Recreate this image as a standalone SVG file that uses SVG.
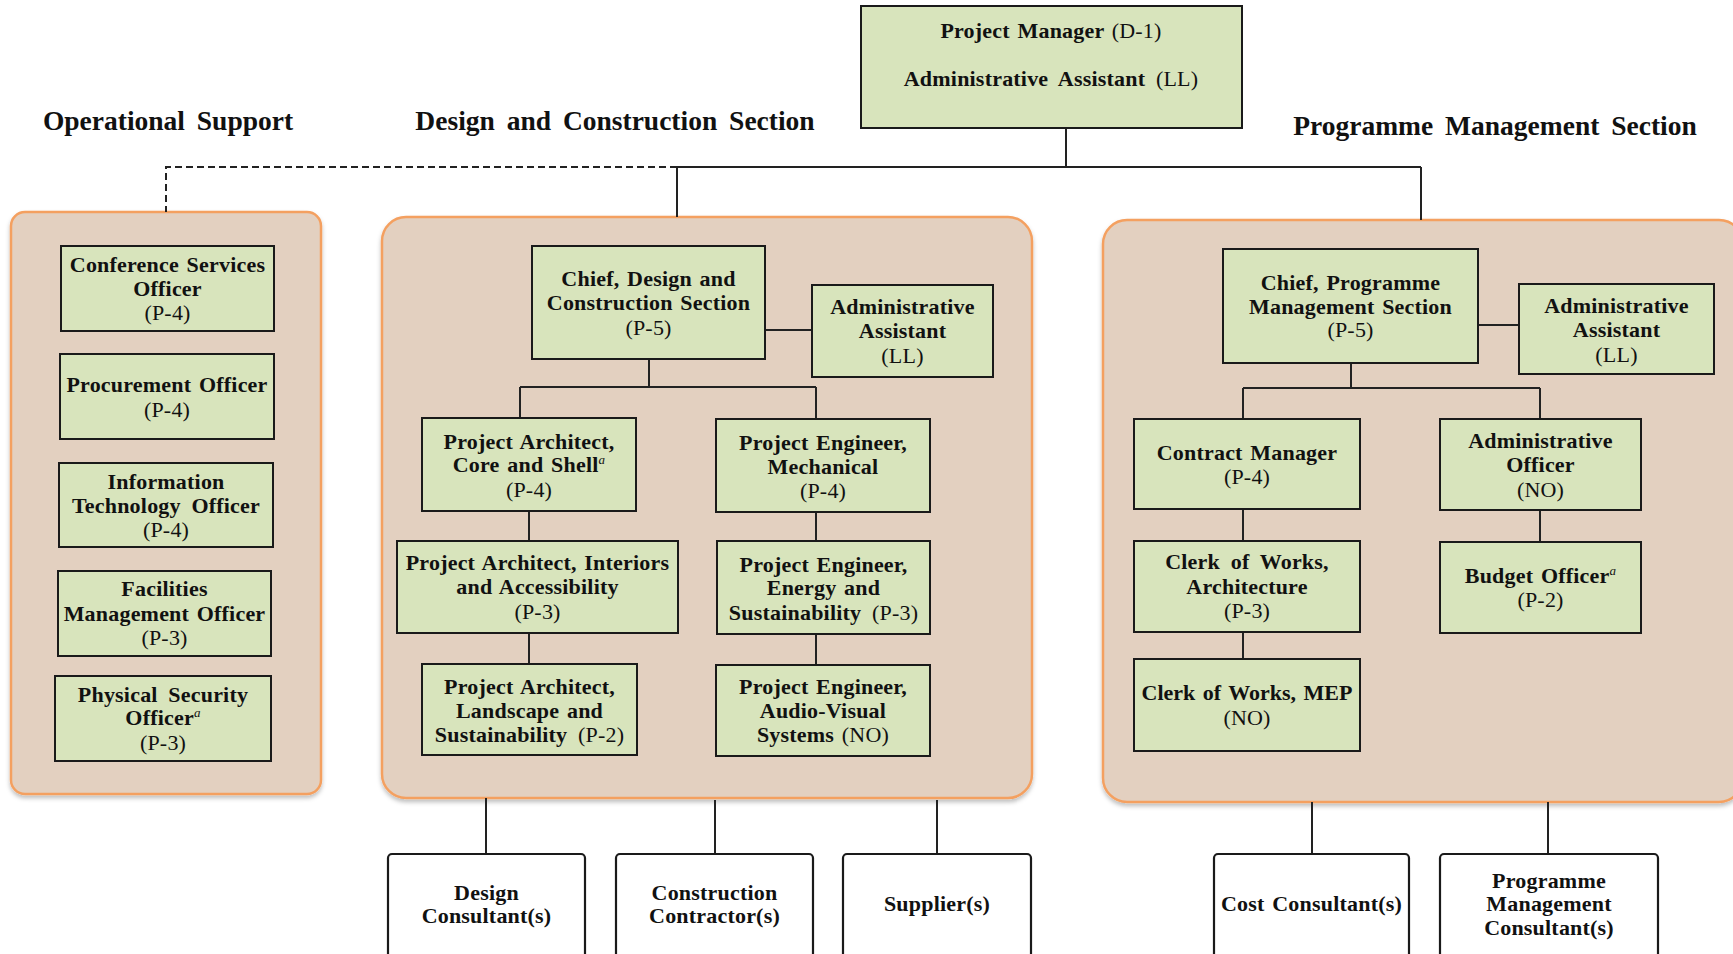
<svg xmlns="http://www.w3.org/2000/svg" width="1733" height="954" viewBox="0 0 1733 954">
<style>
.panel{fill:#E3D0C0;stroke:#F4A060;stroke-width:2.5}
.node{fill:#D8E4BC;stroke:#1a1a1a;stroke-width:2}
.ext{fill:#ffffff;stroke:#1a1a1a;stroke-width:2.2}
.t{font-family:"Liberation Serif","Times New Roman",serif;font-size:22px;font-weight:bold;fill:#111;text-anchor:middle;word-spacing:2px;letter-spacing:0.2px}
.r{font-weight:normal}
.sup{font-style:italic;font-weight:normal;font-size:13px}
.h{font-family:"Liberation Serif","Times New Roman",serif;font-size:27.5px;font-weight:bold;fill:#111;text-anchor:middle;word-spacing:5px}
.ln{fill:none;stroke:#222;stroke-width:2}
.dash{fill:none;stroke:#222;stroke-width:2;stroke-dasharray:7,4}
</style>
<defs>
<filter id="sh" x="-5%" y="-5%" width="110%" height="115%">
<feDropShadow dx="0" dy="3" stdDeviation="2" flood-color="#000" flood-opacity="0.25"/>
</filter>
</defs>
<rect width="1733" height="954" fill="#ffffff"/>

<g id="headings">
<text class="h" x="168" y="130">Operational Support</text>
<text class="h" x="615" y="130">Design and Construction Section</text>
<text class="h" x="1495" y="135">Programme Management Section</text>
</g>

<g id="panels">
<rect id="panel-ops" class="panel" filter="url(#sh)" x="11" y="212" width="310" height="582" rx="14"/>
<rect id="panel-dc" class="panel" filter="url(#sh)" x="382" y="217" width="650" height="581" rx="24"/>
<rect id="panel-pms" class="panel" filter="url(#sh)" x="1103" y="220" width="640" height="582" rx="24"/>
</g>

<g id="connectors">
<path class="dash" d="M677 167 H166 V212"/>
<path class="ln" d="M1066 128 V167 M677 167 H1421 M677 167 V217 M1421 167 V220"/>
<path class="ln" d="M765 330 H812 M649 359 V387 M520 387 H816 M520 387 V418 M816 387 V419 M529 511 V541 M529 633 V664 M816 512 V541 M816 634 V665"/>
<path class="ln" d="M1478 325 H1519 M1351 363 V388 M1243 388 H1540 M1243 388 V419 M1540 388 V419 M1243 509 V541 M1243 632 V659 M1540 510 V542"/>
<path class="ln" d="M486 798 V854 M715 800 V854 M937 800 V854 M1312 802 V854 M1548 802 V854"/>
</g>

<g id="pm">
<rect class="node" x="861" y="6" width="381" height="122"/>
<text class="t" x="1051" y="38">Project Manager <tspan class="r">(D-1)</tspan></text>
<text class="t" x="1051" y="86" style="word-spacing:5px">Administrative Assistant <tspan class="r">(LL)</tspan></text>
</g>

<g id="ops-cso">
<rect class="node" x="61" y="246" width="213" height="85"/>
<text class="t" x="167.5" y="272">Conference Services</text>
<text class="t" x="167.5" y="296">Officer</text>
<text class="t r" x="167.5" y="320">(P-4)</text>
</g>
<g id="ops-proc">
<rect class="node" x="60" y="354" width="214" height="85"/>
<text class="t" x="167" y="392">Procurement Officer</text>
<text class="t r" x="167" y="417">(P-4)</text>
</g>
<g id="ops-it">
<rect class="node" x="59" y="463" width="214" height="84"/>
<text class="t" x="166" y="489">Information</text>
<text class="t" x="166" y="513" style="word-spacing:5px">Technology Officer</text>
<text class="t r" x="166" y="537">(P-4)</text>
</g>
<g id="ops-fm">
<rect class="node" x="58" y="571" width="213" height="85"/>
<text class="t" x="164.5" y="596">Facilities</text>
<text class="t" x="164.5" y="621">Management Officer</text>
<text class="t r" x="164.5" y="645">(P-3)</text>
</g>
<g id="ops-ps">
<rect class="node" x="55" y="676" width="216" height="85"/>
<text class="t" x="163" y="702" style="word-spacing:5px">Physical Security</text>
<text class="t" x="163" y="725">Officer<tspan class="sup" dy="-8">a</tspan></text>
<text class="t r" x="163" y="750">(P-3)</text>
</g>

<g id="dc-chief">
<rect class="node" x="532" y="246" width="233" height="113"/>
<text class="t" x="648.5" y="286">Chief, Design and</text>
<text class="t" x="648.5" y="310">Construction Section</text>
<text class="t r" x="648.5" y="335">(P-5)</text>
</g>
<g id="dc-admin">
<rect class="node" x="812" y="285" width="181" height="92"/>
<text class="t" x="902.5" y="314">Administrative</text>
<text class="t" x="902.5" y="338">Assistant</text>
<text class="t r" x="902.5" y="363">(LL)</text>
</g>
<g id="dc-pa-core">
<rect class="node" x="422" y="418" width="214" height="93"/>
<text class="t" x="529" y="449">Project Architect,</text>
<text class="t" x="529" y="472">Core and Shell<tspan class="sup" dy="-8">a</tspan></text>
<text class="t r" x="529" y="497">(P-4)</text>
</g>
<g id="dc-pe-mech">
<rect class="node" x="716" y="419" width="214" height="93"/>
<text class="t" x="823" y="450">Project Engineer,</text>
<text class="t" x="823" y="474">Mechanical</text>
<text class="t r" x="823" y="498">(P-4)</text>
</g>
<g id="dc-pa-int">
<rect class="node" x="397" y="541" width="281" height="92"/>
<text class="t" x="537.5" y="570">Project Architect, Interiors</text>
<text class="t" x="537.5" y="594">and Accessibility</text>
<text class="t r" x="537.5" y="619">(P-3)</text>
</g>
<g id="dc-pe-energy">
<rect class="node" x="717" y="541" width="213" height="93"/>
<text class="t" x="823.5" y="572">Project Engineer,</text>
<text class="t" x="823.5" y="595">Energy and</text>
<text class="t" x="823.5" y="620" style="word-spacing:5px">Sustainability <tspan class="r">(P-3)</tspan></text>
</g>
<g id="dc-pa-land">
<rect class="node" x="422" y="664" width="215" height="91"/>
<text class="t" x="529.5" y="694">Project Architect,</text>
<text class="t" x="529.5" y="718">Landscape and</text>
<text class="t" x="529.5" y="742" style="word-spacing:5px">Sustainability <tspan class="r">(P-2)</tspan></text>
</g>
<g id="dc-pe-av">
<rect class="node" x="716" y="665" width="214" height="91"/>
<text class="t" x="823" y="694">Project Engineer,</text>
<text class="t" x="823" y="718">Audio-Visual</text>
<text class="t" x="823" y="742">Systems <tspan class="r">(NO)</tspan></text>
</g>

<g id="pms-chief">
<rect class="node" x="1223" y="249" width="255" height="114"/>
<text class="t" x="1350.5" y="290">Chief, Programme</text>
<text class="t" x="1350.5" y="314">Management Section</text>
<text class="t r" x="1350.5" y="337">(P-5)</text>
</g>
<g id="pms-admin">
<rect class="node" x="1519" y="284" width="195" height="90"/>
<text class="t" x="1616.5" y="313">Administrative</text>
<text class="t" x="1616.5" y="337">Assistant</text>
<text class="t r" x="1616.5" y="362">(LL)</text>
</g>
<g id="pms-contract">
<rect class="node" x="1134" y="419" width="226" height="90"/>
<text class="t" x="1247" y="460">Contract Manager</text>
<text class="t r" x="1247" y="484">(P-4)</text>
</g>
<g id="pms-adminoff">
<rect class="node" x="1440" y="419" width="201" height="91"/>
<text class="t" x="1540.5" y="448">Administrative</text>
<text class="t" x="1540.5" y="472">Officer</text>
<text class="t r" x="1540.5" y="497">(NO)</text>
</g>
<g id="pms-clerk-arch">
<rect class="node" x="1134" y="541" width="226" height="91"/>
<text class="t" x="1247" y="569" style="word-spacing:5px">Clerk of Works,</text>
<text class="t" x="1247" y="594">Architecture</text>
<text class="t r" x="1247" y="618">(P-3)</text>
</g>
<g id="pms-budget">
<rect class="node" x="1440" y="542" width="201" height="91"/>
<text class="t" x="1540.5" y="583">Budget Officer<tspan class="sup" dy="-8">a</tspan></text>
<text class="t r" x="1540.5" y="607">(P-2)</text>
</g>
<g id="pms-clerk-mep">
<rect class="node" x="1134" y="659" width="226" height="92"/>
<text class="t" x="1247" y="700" style="word-spacing:2px;letter-spacing:0px">Clerk of Works, MEP</text>
<text class="t r" x="1247" y="725">(NO)</text>
</g>

<g id="ext-design">
<rect class="ext" x="388" y="854" width="197" height="110" rx="4"/>
<text class="t" x="486.5" y="900">Design</text>
<text class="t" x="486.5" y="923">Consultant(s)</text>
</g>
<g id="ext-construction">
<rect class="ext" x="616" y="854" width="197" height="110" rx="4"/>
<text class="t" x="714.5" y="900">Construction</text>
<text class="t" x="714.5" y="923">Contractor(s)</text>
</g>
<g id="ext-supplier">
<rect class="ext" x="843" y="854" width="188" height="110" rx="4"/>
<text class="t" x="937" y="911">Supplier(s)</text>
</g>
<g id="ext-cost">
<rect class="ext" x="1214" y="854" width="195" height="110" rx="4"/>
<text class="t" x="1311.5" y="911">Cost Consultant(s)</text>
</g>
<g id="ext-pmc">
<rect class="ext" x="1440" y="854" width="218" height="110" rx="4"/>
<text class="t" x="1549" y="888">Programme</text>
<text class="t" x="1549" y="911">Management</text>
<text class="t" x="1549" y="935">Consultant(s)</text>
</g>
</svg>
